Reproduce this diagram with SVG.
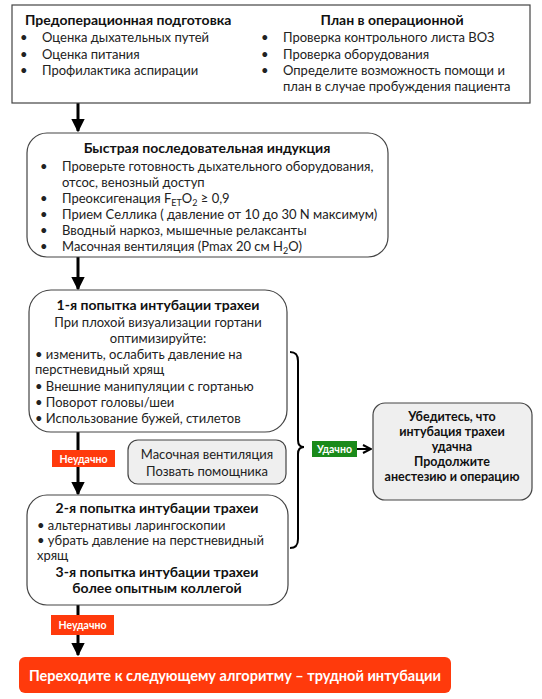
<svg xmlns="http://www.w3.org/2000/svg" width="542" height="699" viewBox="0 0 542 699">
<defs>
<marker id="ah" viewBox="0 0 10 10" refX="9" refY="5" markerWidth="4.5" markerHeight="4.5" orient="auto" markerUnits="strokeWidth">
<path d="M0,0 L10,5 L0,10 Z" fill="#000"/>
</marker>
<marker id="oh" viewBox="0 0 10 10" refX="9" refY="5" markerWidth="5" markerHeight="5" orient="auto" markerUnits="strokeWidth">
<path d="M1,1 L9,5 L1,9" fill="none" stroke="#000" stroke-width="2"/>
</marker>
<style>
text{font-family:Lato,"Open Sans","Liberation Sans",sans-serif;font-size:13px;fill:#222}
.b{font-weight:bold;fill:#111}
.c{text-anchor:middle}
.box{fill:#fff;stroke:#444;stroke-width:1.2}
.gbox{fill:#efefef;stroke:#444;stroke-width:1.2}
.red{fill:#ff3a0c}
.grn{fill:#1a8a1a}
.lbl{font-size:10.5px;font-weight:bold;fill:#fff;text-anchor:middle}
.arr{stroke:#000;stroke-width:3;fill:none}
.sub{font-size:9px}
.cf{font-size:12.5px}
</style>
</defs>

<g id="connectors">
<line class="arr" x1="78" y1="103" x2="78" y2="131" marker-end="url(#ah)"/>
<line class="arr" x1="78" y1="257" x2="78" y2="289" marker-end="url(#ah)"/>
<line class="arr" x1="78" y1="432" x2="78" y2="494" marker-end="url(#ah)"/>
<line class="arr" x1="78" y1="605" x2="78" y2="655" marker-end="url(#ah)"/>
<path d="M290,352 C296,352 298,355 298,361 L298,440 C298,445 300,447 304,447 C300,447 298,449 298,454 L298,539 C298,545 296,548 290,548" fill="none" stroke="#000" stroke-width="2"/>
<line x1="357" y1="449" x2="371" y2="449" stroke="#000" stroke-width="2" marker-end="url(#oh)"/>
</g>

<g id="preop">
<rect x="12" y="5" width="518" height="98" fill="#fff" stroke="#444" stroke-width="1.2"/>
<text class="b" x="25" y="25" style="font-size:14px">Предоперационная  подготовка</text>
<text x="20" y="42">•</text><text x="42" y="42">Оценка дыхательных путей</text>
<text x="20" y="59">•</text><text x="42" y="59">Оценка питания</text>
<text x="20" y="75">•</text><text x="42" y="75">Профилактика аспирации</text>
<text class="b c" x="392" y="25" style="font-size:14px">План  в операционной</text>
<text x="261" y="42">•</text><text x="283" y="42">Проверка контрольного листа ВОЗ</text>
<text x="261" y="59">•</text><text x="283" y="59">Проверка оборудования</text>
<text x="261" y="75">•</text><text x="283" y="75">Определите возможность помощи и</text>
<text x="283" y="91">план в случае пробуждения пациента</text>
</g>

<g id="rsi">
<rect class="box" x="27" y="133" width="361" height="124" rx="20"/>
<text class="b c" x="207" y="153" style="font-size:14px">Быстрая  последовательная  индукция</text>
<text x="40" y="171">•</text><text x="62" y="171">Проверьте готовность дыхательного оборудования,</text>
<text x="62" y="187">отсос, венозный доступ</text>
<text x="40" y="203">•</text><text x="62" y="203">Преоксигенация F<tspan class="sub" dy="3">ET</tspan><tspan dy="-3">O</tspan><tspan class="sub" dy="3">2</tspan><tspan dy="-3"> ≥ 0,9</tspan></text>
<text x="40" y="219">•</text><text x="62" y="219">Прием Селлика ( давление от 10 до 30 N максимум)</text>
<text x="40" y="235">•</text><text x="62" y="235">Вводный наркоз, мышечные релаксанты</text>
<text x="40" y="251">•</text><text x="62" y="251">Масочная вентиляция (Pmax 20 см H<tspan class="sub" dy="3">2</tspan><tspan dy="-3">O)</tspan></text>
</g>

<g id="attempt1">
<rect class="box" x="29" y="290" width="258" height="142" rx="22"/>
<text class="b c" x="158" y="310" style="font-size:14px">1-я попытка  интубации трахеи</text>
<text class="c" x="158" y="327">При плохой визуализации гортани</text>
<text class="c" x="158" y="343">оптимизируйте:</text>
<text x="35" y="359">• изменить, ослабить давление на</text>
<text x="35" y="374">перстневидный хрящ</text>
<text x="35" y="391">• Внешние манипуляции с гортанью</text>
<text x="35" y="407">• Поворот головы/шеи</text>
<text x="35" y="423">• Использование бужей, стилетов</text>
</g>

<g id="fail1">
<rect class="red" x="52" y="450" width="63" height="17"/>
<text class="lbl" x="83.5" y="462.5">Неудачно</text>
</g>

<g id="mask">
<rect class="gbox" x="128" y="440" width="158" height="44" rx="10"/>
<text class="c" x="207" y="459">Масочная вентиляция</text>
<text class="c" x="207" y="476">Позвать помощника</text>
</g>

<g id="success">
<rect class="grn" x="312" y="441" width="45" height="16"/>
<text class="lbl" x="334.5" y="453">Удачно</text>
</g>

<g id="confirm">
<rect class="gbox" x="373" y="403" width="159" height="97" rx="12"/>
<text class="b c cf" x="452" y="421">Убедитесь, что</text>
<text class="b c cf" x="452" y="436">интубация трахеи</text>
<text class="b c cf" x="452" y="451">удачна</text>
<text class="b c cf" x="452" y="466">Продолжите</text>
<text class="b c cf" x="452" y="481">анестезию и операцию</text>
</g>

<g id="attempt2">
<rect class="box" x="27" y="495" width="261" height="110" rx="20"/>
<text class="b c" x="157" y="513" style="font-size:14px">2-я попытка  интубации трахеи</text>
<text x="37" y="530">• альтернативы ларингоскопии</text>
<text x="37" y="545">• убрать давление на перстневидный</text>
<text x="37" y="560">хрящ</text>
<text class="b c" x="157" y="577" style="font-size:14px">3-я попытка  интубации трахеи</text>
<text class="b c" x="157" y="593" style="font-size:14px">более опытным  коллегой</text>
</g>

<g id="fail2">
<rect class="red" x="51" y="615" width="63" height="20"/>
<text class="lbl" x="82.5" y="629">Неудачно</text>
</g>

<g id="next">
<rect class="red" x="19" y="657" width="432" height="36" rx="6"/>
<text class="b c" x="235" y="681" style="font-size:14.5px;fill:#fff">Переходите  к следующему алгоритму  –  трудной  интубации</text>
</g>
</svg>
